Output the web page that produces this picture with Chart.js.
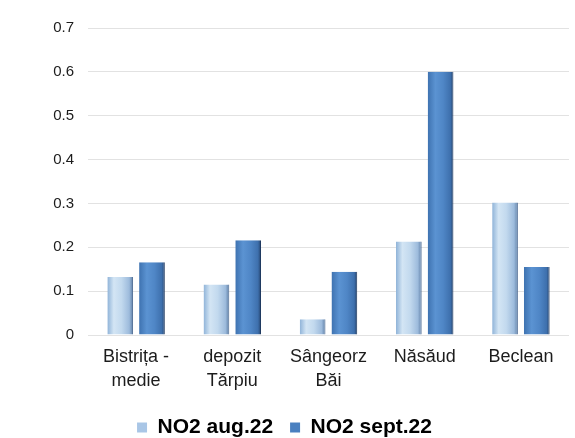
<!DOCTYPE html>
<html>
<head>
<meta charset="utf-8">
<script src="https://cdn.jsdelivr.net/npm/chart.js@4/dist/chart.umd.min.js"></script>
<style>
  html, body { margin: 0; padding: 0; background: #fff; }
  #wrap { width: 575px; height: 438px; }
</style>
</head>
<body>
<div id="wrap"><canvas id="myChart" width="575" height="438"></canvas></div>
<script>
var stations = [["Bistrița -", "medie"], ["depozit", "Tărpiu"], ["Sângeorz", "Băi"], "Năsăud", "Beclean"];
var no2Aug = [0.132, 0.115, 0.036, 0.213, 0.302];
var no2Sept = [0.166, 0.216, 0.144, 0.600, 0.155];
var seriesNames = ["NO2 aug.22", "NO2 sept.22"];
var yTicks = [0, 0.1, 0.2, 0.3, 0.4, 0.5, 0.6, 0.7];

var catPct = 0.66, barPct = 0.81;

// horizontal "cylinder" shading for each bar, positioned off the x scale
function shade(stops, fallback) {
  return function(c) {
    var xs = c.chart.scales.x;
    if (!xs || c.dataIndex === undefined || !xs.width) return fallback;
    var catW = xs.width / stations.length;
    var slot = catW * catPct / 2;
    var w = slot * barPct;
    var cx = xs.getPixelForValue(c.dataIndex) + (c.datasetIndex - 0.5) * slot;
    var g = c.chart.ctx.createLinearGradient(cx - w / 2, 0, cx + w / 2, 0);
    stops.forEach(function(s) { g.addColorStop(s[0], s[1]); });
    return g;
  };
}

var augStops = [[0, "#8fb3d8"], [0.25, "#d3e5f4"], [0.55, "#c2d9ee"], [0.85, "#9dbbdc"], [1, "#5d7ea6"]];
var septStops = [[0, "#3e72b0"], [0.3, "#5b93d2"], [0.6, "#4f86c6"], [0.88, "#3e70ad"], [1, "#24426c"]];

var font = "'Liberation Sans', Arial, sans-serif";

new Chart("myChart", {
  type: "bar",
  data: {
    labels: stations,
    datasets: [{
      label: seriesNames[0],
      data: no2Aug,
      backgroundColor: shade(augStops, "#bcd6ee"),
      borderColor: "#4c6a92",
      borderWidth: {left: 0, top: 0, bottom: 0, right: 1},
      categoryPercentage: catPct,
      barPercentage: barPct
    }, {
      label: seriesNames[1],
      data: no2Sept,
      backgroundColor: shade(septStops, "#4f86c6"),
      borderColor: "#1f3a60",
      borderWidth: {left: 0, top: 0, bottom: 0, right: 1},
      categoryPercentage: catPct,
      barPercentage: barPct
    }]
  },
  options: {
    responsive: false,
    animation: false,
    layout: {padding: {left: 0, right: 6, top: 28, bottom: -10}},
    plugins: {
      tooltip: {enabled: false},
      legend: {
        position: "bottom",
        labels: {
          boxWidth: 10,
          boxHeight: 10,
          padding: 17,
          color: "#2a2a2a",
          font: {family: font, size: 21, weight: "bold"},
          generateLabels: function(chart) {
            return chart.data.datasets.map(function(ds, i) {
              return {
                text: ds.label,
                fillStyle: i === 0 ? "#a9c6e6" : "#4a80c0",
                strokeStyle: i === 0 ? "#a9c6e6" : "#4a80c0",
                lineWidth: 0,
                datasetIndex: i
              };
            });
          }
        }
      }
    },
    scales: {
      x: {
        grid: {display: false},
        border: {display: false},
        ticks: {
          color: "#1c1c1c",
          padding: 3,
          maxRotation: 0,
          font: {family: font, size: 18, lineHeight: 1.28}
        },
        afterFit: function(s) { s.height = 65; }
      },
      y: {
        min: 0,
        max: 0.7,
        afterBuildTicks: function(s) { s.ticks = yTicks.map(function(v) { return {value: v}; }); },
        grid: {color: "#e2e2e2", drawTicks: false},
        border: {display: false},
        ticks: {
          color: "#1c1c1c",
          padding: 14,
          font: {family: font, size: 15},
          callback: function(v) { return v === 0 ? "0" : v.toFixed(1); }
        },
        afterFit: function(s) { s.width = 88; }
      }
    }
  }
});
</script>
</body>
</html>
